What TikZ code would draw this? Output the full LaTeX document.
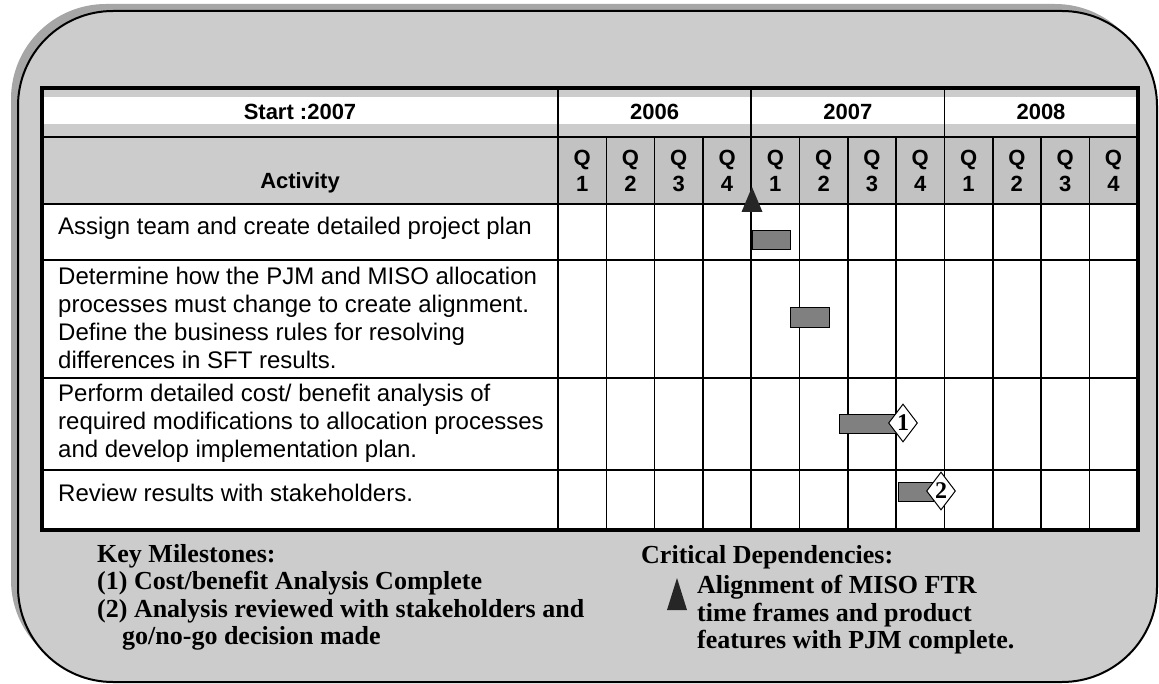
\documentclass[tikz,border=0pt]{standalone}
\usepackage{fontspec}
\setmainfont{Liberation Serif}
\setsansfont{Liberation Sans}
\usetikzlibrary{shapes.geometric}

\tikzset{
  gridrule/.style={line width=1.6pt},
  head/.style={font=\sffamily\bfseries\fontsize{22}{26}\selectfont, inner sep=0pt, align=center},
  task/.style={font=\sffamily\fontsize{24}{28}\selectfont, inner sep=0pt, align=left, anchor=north west},
  note/.style={font=\rmfamily\bfseries\fontsize{26}{27.5}\selectfont, inner sep=0pt, align=left, anchor=north west},
  bar/.style={draw, line width=1pt, top color=black!50, middle color=black!15, bottom color=black!50},
  milestone/.style={diamond, draw, fill=white, line width=1pt, inner sep=0pt,
    minimum width=29pt, minimum height=38pt, font=\rmfamily\bfseries\fontsize{24}{24}\selectfont},
  dep/.style={fill=black!85}
}

\begin{document}
\begin{tikzpicture}[x=1pt,y=-1pt]
  \useasboundingbox (0,0) rectangle (1159,684);
  % rounded frame, shadow to the upper left
  \fill[black!35, rounded corners=95pt] (11,4) rectangle (1150,675);
  \draw[fill=black!20, line width=2pt, rounded corners=95pt] (18,11) rectangle (1157,682);

  % table cells and rules
  \fill[white] (42,97) rectangle (1138,124);
  \fill[white] (42,204) rectangle (1138,530);
  \fill[black!24] (558,137) rectangle (1138,204);
  \foreach \y in {137,204,260,378,470}
    \draw[gridrule] (42,\y) -- (1138,\y);
  \foreach \x in {558,751.2,944.4}
    \draw[gridrule] (\x,88) -- (\x,137);
  \foreach \i in {0,...,12}
    \draw[gridrule] (558+48.3*\i,137) -- (558+48.3*\i,530);
  \draw[line width=3.2pt] (42,88) rectangle (1138,530);

  % header
  \node[head] (start) at (300,112) {Start :2007};
  \node[head] (y2006) at (654.6,112) {2006};
  \node[head] (y2007) at (847.8,112) {2007};
  \node[head] (y2008) at (1041,112) {2008};
  \node[head] (activity) at (300,183) {Activity};
  \foreach \i in {0,...,11} {
    \pgfmathtruncatemacro{\qn}{mod(\i,4)+1}
    \node[head] (q\i) at (582.15+48.3*\i,171) {Q\\\qn};
  }

  % activities
  \node[task] (t1) at (58,216.5) {Assign team and create detailed project plan};
  \node[task] (t2) at (58,266.5) {Determine how the PJM and MISO allocation\\processes must change to create alignment.\\Define the business rules for resolving\\differences in SFT results.};
  \node[task] (t3) at (58,383.5) {Perform detailed cost/ benefit analysis of\\required modifications to allocation processes\\and develop implementation plan.};
  \node[task] (t4) at (58,483.5) {Review results with stakeholders.};

  % bars and milestones
  \draw[bar] (752,231) rectangle (790,250);
  \draw[bar] (790,308) rectangle (829,328);
  \draw[bar] (839,414) rectangle (896,433);
  \draw[bar] (898,482) rectangle (933,501);
  \node[milestone] (m1) at (903,423) {1};
  \node[milestone] (m2) at (941,491) {2};
  \fill[dep] (752,187) -- (741.5,212) -- (762.5,212) -- cycle;

  % legend
  \node[note] (keys) at (97,544) {Key Milestones:\\(1) Cost/benefit Analysis Complete\\(2) Analysis reviewed with stakeholders and\\\hspace*{25pt}go/no-go decision made};
  \node[note] (crit) at (641,545) {Critical Dependencies:};
  \node[note] (align) at (697,575) {Alignment of MISO FTR\\time frames and product\\features with PJM complete.};
  \fill[dep] (677,578) -- (667,610) -- (687,610) -- cycle;
\end{tikzpicture}
\end{document}
